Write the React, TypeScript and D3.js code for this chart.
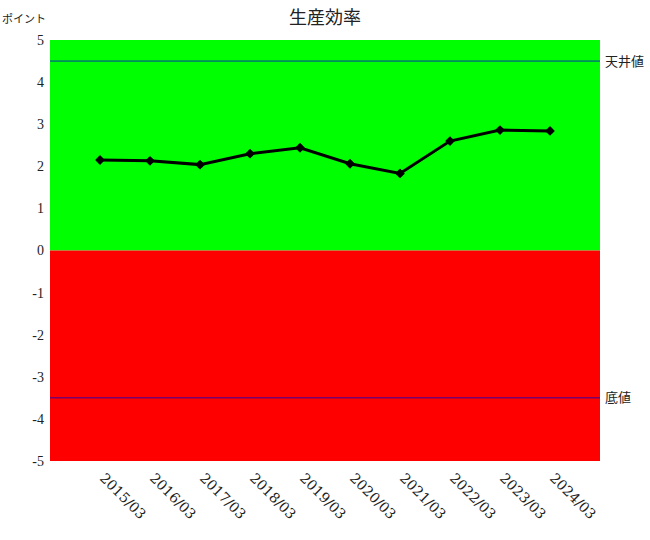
import React from "react";
import * as d3 from "d3";

const categories = ["2015/03", "2016/03", "2017/03", "2018/03", "2019/03", "2020/03", "2021/03", "2022/03", "2023/03", "2024/03"];
const values = [2.15, 2.13, 2.04, 2.3, 2.44, 2.06, 1.83, 2.6, 2.86, 2.84];
const yTicks = [5, 4, 3, 2, 1, 0, -1, -2, -3, -4, -5];
const ceilingValue = 4.5;
const floorValue = -3.5;
const title = "生産効率";
const yUnit = "ポイント";
const ceilingLabel = "天井値";
const floorLabel = "底値";

export default function App() {
  const W = 650, H = 540;
  const left = 50, right = 600, top = 40, bottom = 461;
  const x = d3.scaleLinear().domain([-1, categories.length]).range([left, right]);
  const y = d3.scaleLinear().domain([-5, 5]).range([bottom, top]);
  const line = d3.line<number>().x((_, i) => x(i)).y((d) => y(d));
  const marker = d3.symbol().type(d3.symbolSquare).size(30)() as string;
  const serif = { fontFamily: "'Liberation Serif', serif" };
  const xFont = { fontFamily: "'DejaVu Serif', serif" };
  const jp = { fontFamily: "'Noto Sans CJK JP', sans-serif" };
  return (
    <svg width={W} height={H} style={{ position: "absolute", left: 0, top: 0 }}>
      <rect x={0} y={0} width={W} height={H} fill="#fff" />
      <text x={325} y={24} textAnchor="middle" style={jp} fontSize={18} fill="#222">{title}</text>
      <text x={2} y={23} style={jp} fontSize={11} fill="#222">{yUnit}</text>
      <rect x={left} y={y(5)} width={right - left} height={y(0) - y(5)} fill="#00ff00" />
      <rect x={left} y={y(0)} width={right - left} height={y(-5) - y(0)} fill="#ff0000" />
      <line x1={left} x2={right} y1={y(ceilingValue)} y2={y(ceilingValue)} stroke="#0000cc" strokeWidth={0.8} />
      <line x1={left} x2={right} y1={y(floorValue)} y2={y(floorValue)} stroke="#0000cc" strokeWidth={0.8} />
      <text x={605} y={y(ceilingValue)} dy="0.35em" style={jp} fontSize={13} fill="#222">{ceilingLabel}</text>
      <text x={605} y={y(floorValue)} dy="0.35em" style={jp} fontSize={13} fill="#222">{floorLabel}</text>
      {yTicks.map((t) => (
        <text key={t} x={44} y={y(t)} dy="0.35em" textAnchor="end" style={serif} fontSize={14} fill="#222">{t}</text>
      ))}
      {categories.map((c, i) => (
        <text key={c} transform={`translate(${x(i) - 1},${479}) rotate(45)`} style={xFont} fontSize={14} fill="#222">{c}</text>
      ))}
      <path d={line(values) as string} fill="none" stroke="#000" strokeWidth={3} />
      {values.map((v, i) => (
        <path key={i} d={marker} transform={`translate(${x(i)},${y(v)}) rotate(45)`} fill="#000" stroke="#000" strokeWidth={1.5} strokeLinejoin="round" />
      ))}
    </svg>
  );
}
